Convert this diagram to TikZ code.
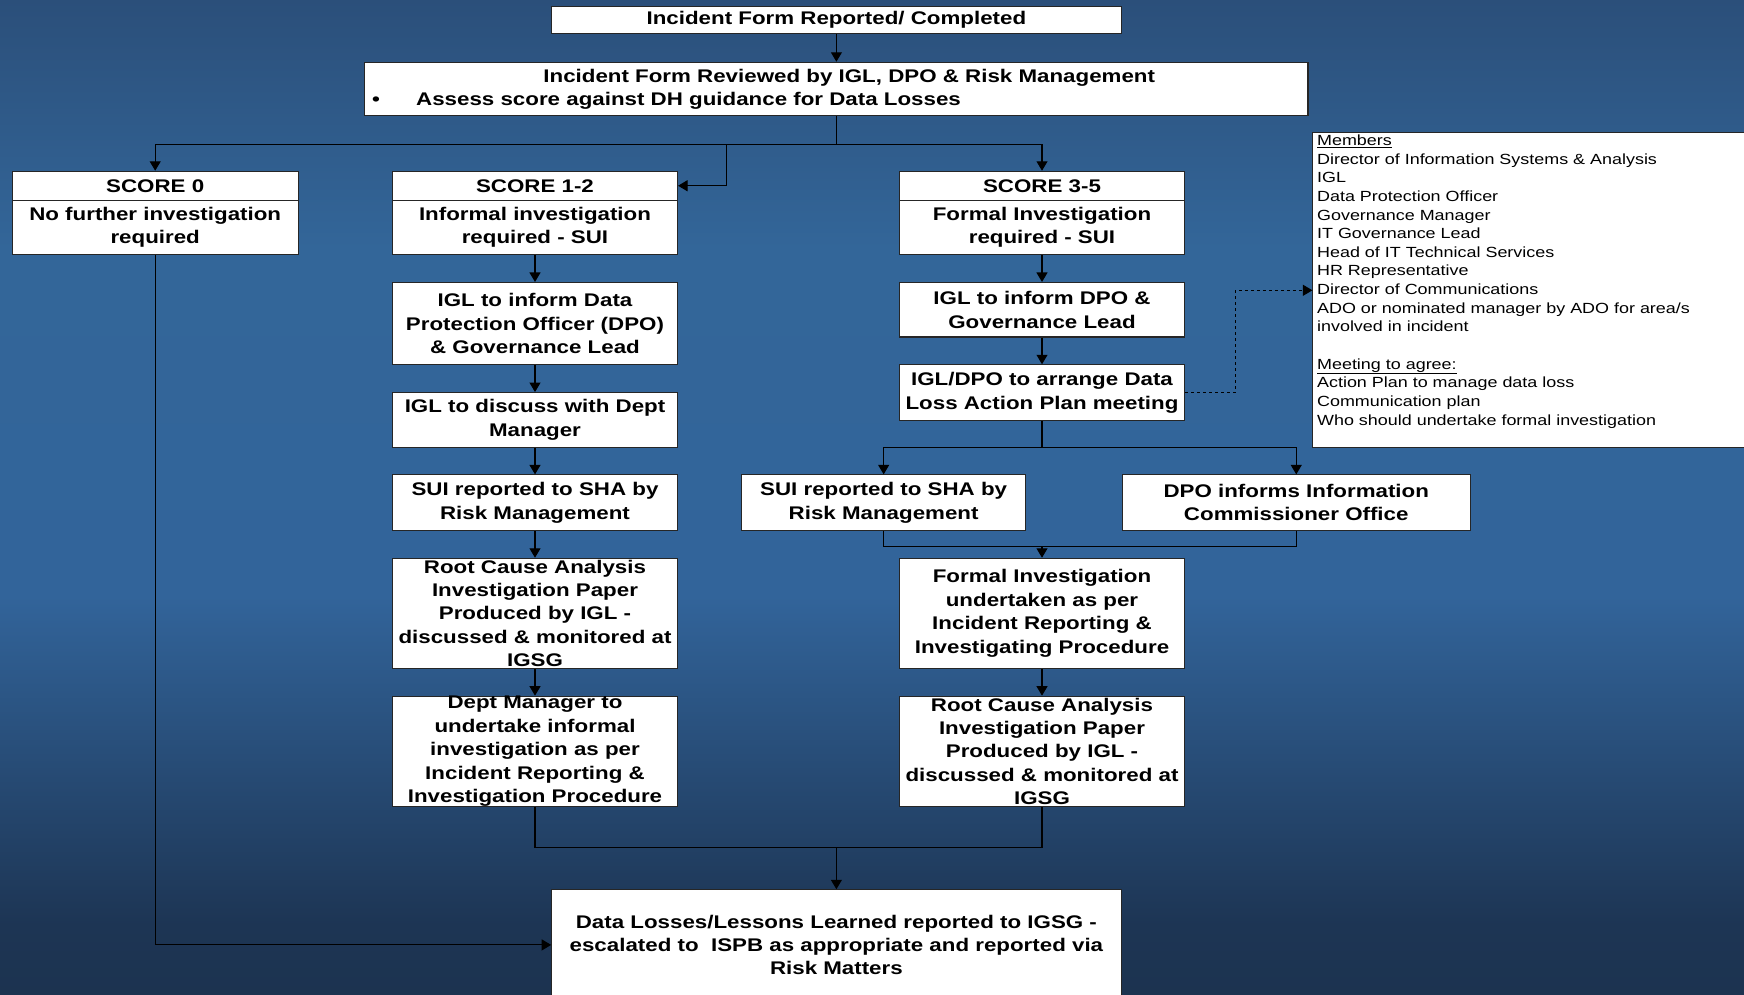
\documentclass[tikz,border=0pt]{standalone}
\usepackage{fontspec}
\setmainfont{Liberation Sans}[FakeStretch=1.22]
\usetikzlibrary{arrows.meta,calc}
\definecolor{bgtop}{HTML}{2B4F7A}
\definecolor{bgmid}{HTML}{336699}
\definecolor{bgmid2}{HTML}{32649A}
\definecolor{bglow}{HTML}{1D3554}
\definecolor{bgbot}{HTML}{1C3350}
\pgfdeclareverticalshading{bgshade}{100bp}{color(0bp)=(bgbot); color(25bp)=(bgbot); color(28.5bp)=(bglow); color(45bp)=(bgmid2); color(62.5bp)=(bgmid); color(75bp)=(bgtop); color(100bp)=(bgtop)}
\begin{document}
\begin{tikzpicture}[x=1pt,y=-1pt,
  box/.style={draw=black!85, line width=1.1pt, fill=white, inner sep=0pt, align=center,
    font=\bfseries\fontsize{18.3}{23.4}\selectfont, text=black},
  colbox/.style={box, minimum width=285pt},
  arr/.style={line width=1.1pt, -{Triangle[length=9.5pt,width=11pt]}},
  ln/.style={line width=1.1pt},
  dasharr/.style={line width=0.9pt, dashed, -{Triangle[length=9.5pt,width=11pt]}},
  memtext/.style={inner sep=0pt, align=left, anchor=north west,
    font=\fontsize{14.7}{18.63}\selectfont, text=black}
]
\useasboundingbox (0,0) rectangle (1744,994);
\clip (0,0) rectangle (1744,994);
\shade[shading=bgshade] (0,0) rectangle (1744,994);

% top boxes
\node[box, minimum width=569.4pt, minimum height=26.7pt] (top) at (836.4,20) {Incident Form Reported/ Completed};
\node[box, minimum width=943.2pt, minimum height=53.4pt] (rev) at (836.4,89) {};
\node[inner sep=0pt, anchor=base, font=\bfseries\fontsize{18.3}{23.4}\selectfont] (rev1) at (849.2,82) {Incident Form Reviewed by IGL, DPO \& Risk Management};
\node[inner sep=0pt, anchor=base, font=\bfseries\fontsize{18.3}{23.4}\selectfont] (revb) at (376,105.5) {•};
\node[inner sep=0pt, anchor=base west, font=\bfseries\fontsize{18.3}{23.4}\selectfont] (rev2) at (416,105.5) {Assess score against DH guidance for Data Losses};

% score boxes
\node[box, minimum width=285.9pt, minimum height=28.9pt] (s0h) at (155.2,185.75) {SCORE 0};
\node[box, minimum width=285.9pt, minimum height=54.5pt] (s0) at (155.2,227.45) {No further investigation\\required};
\node[colbox, minimum height=28.9pt] (s12h) at (535,185.75) {SCORE 1-2};
\node[colbox, minimum height=54.5pt] (s12) at (535,227.45) {Informal investigation\\required - SUI};
\node[colbox, minimum height=28.9pt] (s35h) at (1042,185.75) {SCORE 3-5};
\node[colbox, minimum height=54.5pt] (s35) at (1042,227.45) {Formal Investigation\\required - SUI};

% left column
\node[colbox, minimum height=82.3pt] (a1) at (535,323.65) {IGL to inform Data\\Protection Officer (DPO)\\\& Governance Lead};
\node[colbox, minimum height=54.5pt] (a2) at (535,419.85) {IGL to discuss with Dept\\Manager};
\node[colbox, minimum height=55.6pt] (a3) at (535,502.7) {SUI reported to SHA by\\Risk Management};
\node[colbox, minimum height=110.1pt] (a4) at (535,613.35) {Root Cause Analysis\\Investigation Paper\\Produced by IGL -\\discussed \& monitored at\\IGSG};
\node[colbox, minimum height=110.1pt] (a5) at (535,751.25) {Dept Manager to\\undertake informal\\investigation as per\\Incident Reporting \&\\Investigation Procedure};

% right column
\node[colbox, minimum height=54.5pt] (b1) at (1042,309.75) {IGL to inform DPO \&\\Governance Lead};
\node[colbox, minimum height=55.6pt] (b2) at (1042,392.6) {IGL/DPO to arrange Data\\Loss Action Plan meeting};
\node[box, minimum width=283.7pt, minimum height=55.6pt] (b3) at (883.65,502.7) {SUI reported to SHA by\\Risk Management};
\node[box, minimum width=348.1pt, minimum height=55.6pt] (b4) at (1296.25,502.7) {DPO informs Information\\Commissioner Office};
\node[colbox, minimum height=110.1pt] (b5) at (1042,613.35) {Formal Investigation\\undertaken as per\\Incident Reporting \&\\Investigating Procedure};
\node[colbox, minimum height=110.1pt] (b6) at (1042,751.25) {Root Cause Analysis\\Investigation Paper\\Produced by IGL -\\discussed \& monitored at\\IGSG};

% final box
\node[box, minimum width=569.4pt, minimum height=110.2pt] (fin) at (836.4,944.9) {Data Losses/Lessons Learned reported to IGSG -\\escalated to \ ISPB as appropriate and reported via\\Risk Matters};

% members box
\node[draw=black!85, line width=1.1pt, fill=white, inner sep=0pt, minimum width=440pt, minimum height=314.7pt] (mem) at (1532.4,289.75) {};
\node[memtext] (memt) at (1316.9,134.7) {\underline{Members}\\Director of Information Systems \& Analysis\\IGL\\Data Protection Officer\\Governance Manager\\IT Governance Lead\\Head of IT Technical Services\\HR Representative\\Director of Communications\\ADO or nominated manager by ADO for area/s\\involved in incident\\[18.63pt]\underline{Meeting to agree:}\\Action Plan to manage data loss\\Communication plan\\Who should undertake formal investigation};

% junctions
\coordinate (j1) at (836.4,144.6);
\coordinate (j2) at (726.3,144.6);
\coordinate (j3) at (1042,447.1);
\coordinate (j4) at (1042,546.1);
\coordinate (j5) at (836.4,847.5);
\coordinate (dc) at (1312.4,290.3);

% connectors
\draw[arr] (top) -- (rev);
\draw[ln] (rev.south) -- (j1);
\draw[arr] (j1) -| (s0h.north);
\draw[arr] (j1) -| (s35h.north);
\draw[arr] (j2) |- (s12h.east);

\draw[arr] (s12) -- (a1);
\draw[arr] (a1) -- (a2);
\draw[arr] (a2) -- (a3);
\draw[arr] (a3) -- (a4);
\draw[arr] (a4) -- (a5);

\draw[arr] (s35) -- (b1);
\draw[arr] (b1) -- (b2);
\draw[ln] (b2.south) -- (j3);
\draw[arr] (j3) -| (b3.north);
\draw[arr] (j3) -| (b4.north);
\draw[ln] (b3.south) |- (j4) -| (b4.south);
\draw[arr] (j4) -- (b5.north);
\draw[arr] (b5) -- (b6);

\draw[ln] (a5.south) |- (j5) -| (b6.south);
\draw[arr] (j5) -- (fin.north);
\draw[arr] (s0.south) |- (fin.west);

\draw[dasharr] (b2.east) -- ++(50.1,0) |- (dc);
\end{tikzpicture}
\end{document}
